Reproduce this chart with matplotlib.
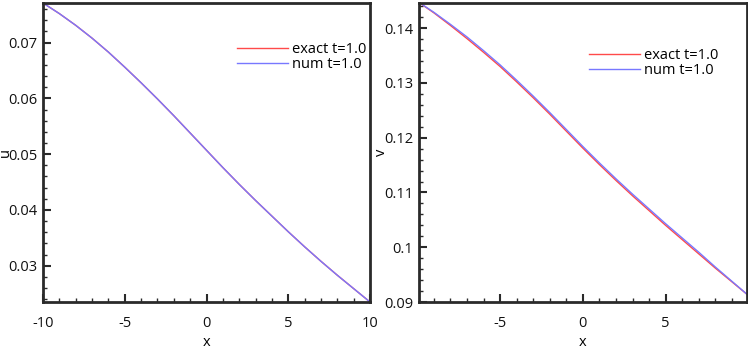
import matplotlib
matplotlib.use("Agg")
import matplotlib.pyplot as plt
from matplotlib.ticker import MultipleLocator, FuncFormatter

plt.rcParams['font.family'] = ['Open Sans', 'DejaVu Sans']

# ---- data ----
x = [-10, -9, -8, -7, -6, -5, -4, -3, -2, -1, 0, 1, 2, 3, 4, 5, 6, 7, 8, 9, 10]
u_exact = [0.0771, 0.0752, 0.0731, 0.0708, 0.0683, 0.0656, 0.0628, 0.0599, 0.0569,
           0.0538, 0.0507, 0.0476, 0.0446, 0.0417, 0.0389, 0.0361, 0.0334, 0.0308,
           0.0283, 0.0259, 0.0235]
u_num = [0.0771, 0.0752, 0.0731, 0.0708, 0.0683, 0.0656, 0.0628, 0.0599, 0.0569,
         0.0538, 0.0507, 0.0476, 0.0446, 0.0417, 0.0389, 0.0361, 0.0334, 0.0308,
         0.0283, 0.0259, 0.0235]
v_exact = [0.1449, 0.1428, 0.1405, 0.1381, 0.1356, 0.1330, 0.1302, 0.1273, 0.1243,
           0.1212, 0.1181, 0.1151, 0.1122, 0.1094, 0.1067, 0.1040, 0.1014, 0.0988,
           0.0962, 0.0937, 0.0912]
v_num = [0.1449, 0.1429, 0.1407, 0.1384, 0.1359, 0.1333, 0.1305, 0.1276, 0.1246,
         0.1215, 0.1184, 0.1154, 0.1125, 0.1097, 0.1070, 0.1043, 0.1017, 0.0991,
         0.0964, 0.0938, 0.0912]
labels = ["exact t=1.0", "num t=1.0"]
u_yticks = [0.03, 0.04, 0.05, 0.06, 0.07]
v_yticks = [0.09, 0.10, 0.11, 0.12, 0.13, 0.14]
u_xticks = [-10, -5, 0, 5, 10]
v_xticks = [-5, 0, 5]

RED = '#ff4a4a'
BLUE = '#7878ff'
SPINE = '#2a2a2a'
FS = 10.5
LFS = 10.5

fig = plt.figure(figsize=(7.48, 3.49), dpi=100)
ax1 = fig.add_axes([43/748, 1-302/349, 327/748, 299/349])
ax2 = fig.add_axes([419/748, 1-302/349, 327.7/748, 299/349])


def style(ax, xticks, yticks):
    for s in ax.spines.values():
        s.set_linewidth(2.0)
        s.set_color(SPINE)
    ax.set_xticks(xticks)
    ax.set_yticks(yticks)
    ax.xaxis.set_minor_locator(MultipleLocator(1))
    ax.yaxis.set_minor_locator(MultipleLocator(0.002))
    ax.yaxis.set_major_formatter(FuncFormatter(lambda v, p: '%g' % round(v, 4)))
    ax.xaxis.set_major_formatter(FuncFormatter(lambda v, p: '%g' % v))
    ax.tick_params(which='both', direction='in', top=False, right=False,
                   color=SPINE, labelsize=FS, labelcolor='#111111')
    ax.tick_params(axis='x', which='major', length=6, width=1.5, pad=10)
    ax.tick_params(axis='x', which='minor', length=3, width=1.0)
    ax.tick_params(axis='y', which='major', length=6, width=1.5, pad=4)
    ax.tick_params(axis='y', which='minor', length=3, width=1.0)


ax1.plot(x, u_exact, color=RED, lw=1.0, label=labels[0])
ax1.plot(x, u_num, color=BLUE, lw=1.0, label=labels[1])
ax1.set_xlim(-10, 10)
ax1.set_ylim(0.0235, 0.0771)
style(ax1, u_xticks, u_yticks)
ax1.set_xlabel('x', fontsize=FS)
ax1.set_ylabel('u', fontsize=FS)
ax1.yaxis.set_label_coords(-0.093, 0.5)
ax1.xaxis.set_label_coords(0.5, -0.11)
ax1.legend(loc='upper left', bbox_to_anchor=(0.593, 0.868), frameon=False,
           fontsize=LFS, handlelength=3.5, handletextpad=0.3, labelspacing=0.0,
           borderpad=0, borderaxespad=0)

ax2.plot(x, v_exact, color=RED, lw=1.0, label=labels[0])
ax2.plot(x, v_num, color=BLUE, lw=1.0, label=labels[1])
ax2.set_xlim(-9.9, 9.9)
ax2.set_ylim(0.09, 0.1446)
style(ax2, v_xticks, v_yticks)
ax2.set_xlabel('x', fontsize=FS)
ax2.set_ylabel('v', fontsize=FS)
ax2.yaxis.set_label_coords(-0.0915, 0.5)
ax2.xaxis.set_label_coords(0.5, -0.11)
ax2.legend(loc='upper left', bbox_to_anchor=(0.519, 0.850), frameon=False,
           fontsize=LFS, handlelength=3.5, handletextpad=0.3, labelspacing=0.0,
           borderpad=0, borderaxespad=0)

fig.savefig('out.png', dpi=100)
